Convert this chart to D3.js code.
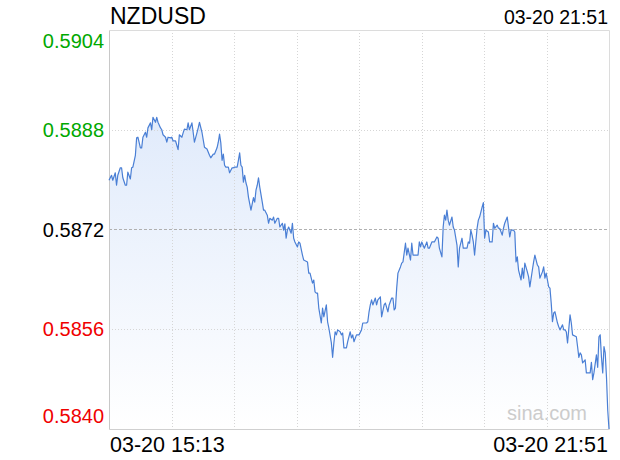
<!DOCTYPE html>
<html><head><meta charset="utf-8">
<script src="https://cdn.jsdelivr.net/npm/d3@7"></script>
<style>html,body{margin:0;padding:0;background:#fff;}svg{display:block;}</style>
</head><body>
<script>
const symbol = "NZDUSD";
const startLabel = "03-20 15:13";
const endLabel = "03-20 21:51";
const watermark = "sina.com";
const yTicks = [0.5840, 0.5856, 0.5872, 0.5888, 0.5904];
const prevClose = 0.5872;
const totalMinutes = 398;
// minutes after 15:13
const minutes = [0,2,3,5,6,7,9,10,11,13,14,15,17,18,19,21,22,23,25,26,27,29,30,31,33,34,35,37,38,39,41,42,43,45,46,47,49,50,51,53,55,56,58,59,60,62,63,64,66,67,68,70,71,72,74,76,78,80,81,83,84,86,87,88,89,90,91,92,93,95,96,98,99,100,102,103,104,105,106,107,108,109,110,111,113,115,116,117,118,119,120,122,123,124,126,127,128,130,131,132,134,135,136,138,139,140,141,142,143,145,146,147,148,150,151,152,154,155,158,159,160,162,163,164,165,166,167,169,170,171,173,174,175,177,178,179,180,181,182,184,185,186,187,189,190,192,193,194,195,197,199,201,202,205,206,207,208,209,210,212,213,214,216,217,219,220,222,223,225,226,227,228,229,230,232,233,234,236,237,238,240,241,242,244,246,247,248,249,251,253,254,255,257,259,261,262,263,265,266,267,268,269,270,271,273,274,275,277,278,279,281,282,285,286,287,288,289,290,291,293,294,295,297,298,299,300,302,303,305,306,307,309,310,311,313,314,315,317,318,319,320,322,323,324,325,326,328,329,330,331,333,334,335,337,338,339,341,342,343,345,346,347,348,349,350,351,352,353,354,355,357,358,359,361,362,363,364,365,367,368,369,372,373,374,375,376,377,379,380,381,383,384,385,386,388,389,390,391,392,393,394,395,396,397,398];
const prices = [0.58799,0.58807,0.58799,0.58811,0.58791,0.58807,0.58819,0.58819,0.58803,0.58791,0.58791,0.58812,0.58801,0.58819,0.58820,0.58839,0.58867,0.58868,0.58851,0.58851,0.58868,0.58876,0.58868,0.58883,0.58891,0.58880,0.58900,0.58892,0.58900,0.58892,0.58883,0.58880,0.58872,0.58868,0.58860,0.58868,0.58867,0.58868,0.58862,0.58862,0.58848,0.58872,0.58868,0.58875,0.58881,0.58880,0.58891,0.58880,0.58891,0.58876,0.58860,0.58875,0.58883,0.58892,0.58876,0.58852,0.58849,0.58839,0.58835,0.58841,0.58841,0.58851,0.58860,0.58873,0.58859,0.58831,0.58841,0.58823,0.58820,0.58820,0.58811,0.58819,0.58819,0.58820,0.58820,0.58831,0.58843,0.58823,0.58820,0.58796,0.58807,0.58795,0.58788,0.58772,0.58751,0.58771,0.58764,0.58783,0.58791,0.58803,0.58788,0.58764,0.58751,0.58751,0.58743,0.58730,0.58738,0.58735,0.58740,0.58730,0.58738,0.58738,0.58724,0.58730,0.58719,0.58729,0.58706,0.58719,0.58724,0.58714,0.58730,0.58706,0.58700,0.58692,0.58700,0.58698,0.58679,0.58671,0.58668,0.58650,0.58650,0.58634,0.58639,0.58620,0.58618,0.58618,0.58594,0.58570,0.58594,0.58580,0.58599,0.58572,0.58562,0.58538,0.58515,0.58538,0.58556,0.58551,0.58559,0.58556,0.58551,0.58554,0.58530,0.58530,0.58540,0.58556,0.58546,0.58551,0.58540,0.58551,0.58551,0.58559,0.58570,0.58570,0.58572,0.58588,0.58599,0.58607,0.58599,0.58610,0.58599,0.58607,0.58612,0.58580,0.58599,0.58602,0.58588,0.58599,0.58610,0.58610,0.58591,0.58594,0.58626,0.58650,0.58660,0.58666,0.58668,0.58698,0.58679,0.58690,0.58671,0.58698,0.58679,0.58679,0.58679,0.58700,0.58692,0.58700,0.58690,0.58700,0.58690,0.58690,0.58700,0.58700,0.58708,0.58706,0.58690,0.58676,0.58724,0.58743,0.58735,0.58751,0.58735,0.58727,0.58740,0.58724,0.58719,0.58695,0.58660,0.58690,0.58706,0.58690,0.58690,0.58700,0.58698,0.58719,0.58711,0.58700,0.58679,0.58722,0.58735,0.58740,0.58756,0.58763,0.58706,0.58719,0.58716,0.58700,0.58700,0.58730,0.58722,0.58727,0.58722,0.58722,0.58711,0.58722,0.58730,0.58740,0.58724,0.58708,0.58719,0.58719,0.58716,0.58668,0.58676,0.58655,0.58639,0.58658,0.58642,0.58666,0.58652,0.58644,0.58628,0.58655,0.58668,0.58679,0.58663,0.58660,0.58642,0.58652,0.58660,0.58642,0.58650,0.58639,0.58628,0.58626,0.58602,0.58572,0.58586,0.58588,0.58570,0.58564,0.58559,0.58567,0.58559,0.58559,0.58556,0.58538,0.58583,0.58570,0.58551,0.58548,0.58532,0.58515,0.58522,0.58519,0.58506,0.58511,0.58490,0.58490,0.58490,0.58507,0.58479,0.58490,0.58519,0.58499,0.58548,0.58551,0.58515,0.58490,0.58532,0.58522,0.58483,0.58430,0.58400];

const W = 620, H = 460;
const margin = {left: 109, right: 11, top: 30, bottom: 31};
const data = minutes.map((m, i) => ({m, p: prices[i]}));

const svg = d3.select("body").append("svg").attr("width", W).attr("height", H);
const x = d3.scaleLinear().domain([0, totalMinutes]).range([margin.left, W - margin.right]);
const y = d3.scaleLinear().domain([yTicks[0], yTicks[yTicks.length - 1]]).range([H - margin.bottom, margin.top]);

const defs = svg.append("defs");
const grad = defs.append("linearGradient").attr("id", "fillg")
  .attr("gradientUnits", "userSpaceOnUse")
  .attr("x1", 0).attr("x2", 0).attr("y1", margin.top).attr("y2", H - margin.bottom);
grad.append("stop").attr("offset", "0%").attr("stop-color", "#d8e5fa");
grad.append("stop").attr("offset", "100%").attr("stop-color", "#ffffff");

// area
svg.append("path").datum(data)
  .attr("fill", "url(#fillg)")
  .attr("d", d3.area().x(d => x(d.m)).y0(y.range()[0]).y1(d => y(d.p)));

// vertical grid
const xGrid = d3.range(1, 8).map(i => i * totalMinutes / 8);
svg.append("g").selectAll("line").data(xGrid).join("line")
  .attr("x1", d => Math.round(x(d)) + 0.5).attr("x2", d => Math.round(x(d)) + 0.5)
  .attr("y1", margin.top).attr("y2", H - margin.bottom)
  .attr("stroke", "#d6d6d6").attr("stroke-dasharray", "1,2");

// horizontal grid
svg.append("g").selectAll("line").data(yTicks.slice(1, -1)).join("line")
  .attr("x1", margin.left).attr("x2", W - margin.right)
  .attr("y1", d => Math.round(y(d)) + 0.5).attr("y2", d => Math.round(y(d)) + 0.5)
  .attr("stroke", d => d === prevClose ? "#b0b0b0" : "#d6d6d6")
  .attr("stroke-dasharray", d => d === prevClose ? "3,2" : "1,2");

// frame
const fx0 = margin.left + 0.5, fx1 = W - margin.right + 0.5;
const fy0 = margin.top + 0.5, fy1 = H - margin.bottom + 0.5;
svg.append("line").attr("x1", fx0).attr("x2", fx1).attr("y1", fy0).attr("y2", fy0).attr("stroke", "#dcdcdc");
svg.append("line").attr("x1", fx0).attr("x2", fx1).attr("y1", fy1).attr("y2", fy1).attr("stroke", "#d0d0d0");
svg.append("line").attr("x1", fx1).attr("x2", fx1).attr("y1", fy0).attr("y2", fy1).attr("stroke", "#dcdcdc");
svg.append("line").attr("x1", fx0).attr("x2", fx0).attr("y1", fy0).attr("y2", fy1).attr("stroke", "#c8c8c8");

// line
svg.append("path").datum(data)
  .attr("fill", "none").attr("stroke", "#4a7fd5").attr("stroke-width", 1.2)
  .attr("stroke-linejoin", "round")
  .attr("d", d3.line().x(d => x(d.m)).y(d => y(d.p)));

const font = "'Liberation Sans', Arial, Helvetica, sans-serif";

// y labels
svg.append("g").selectAll("text").data(yTicks).join("text")
  .attr("x", 104)
  .attr("y", (d, i) => i === yTicks.length - 1 ? y(d) + 18 : (i === 0 ? y(d) - 6 : y(d) + 7))
  .attr("text-anchor", "end")
  .attr("font-family", font).attr("font-size", 20)
  .attr("fill", d => d > prevClose ? "#00a800" : (d < prevClose ? "#f00000" : "#000"))
  .text(d => d.toFixed(4));

// title and times
svg.append("text").attr("x", 110).attr("y", 24).attr("font-family", font).attr("font-size", 23)
  .attr("fill", "#000").text(symbol);
svg.append("text").attr("x", 608).attr("y", 24).attr("text-anchor", "end").attr("font-family", font)
  .attr("font-size", 19.5).attr("fill", "#000").text(endLabel);
svg.append("text").attr("x", 110).attr("y", 452).attr("font-family", font).attr("font-size", 21.5)
  .attr("fill", "#000").text(startLabel);
svg.append("text").attr("x", 608).attr("y", 452).attr("text-anchor", "end").attr("font-family", font)
  .attr("font-size", 21.5).attr("fill", "#000").text(endLabel);

// watermark
svg.append("text").attr("x", 587).attr("y", 420).attr("text-anchor", "end").attr("font-family", font)
  .attr("font-size", 20).attr("fill", "#cccccc").text(watermark);
</script>
</body></html>
